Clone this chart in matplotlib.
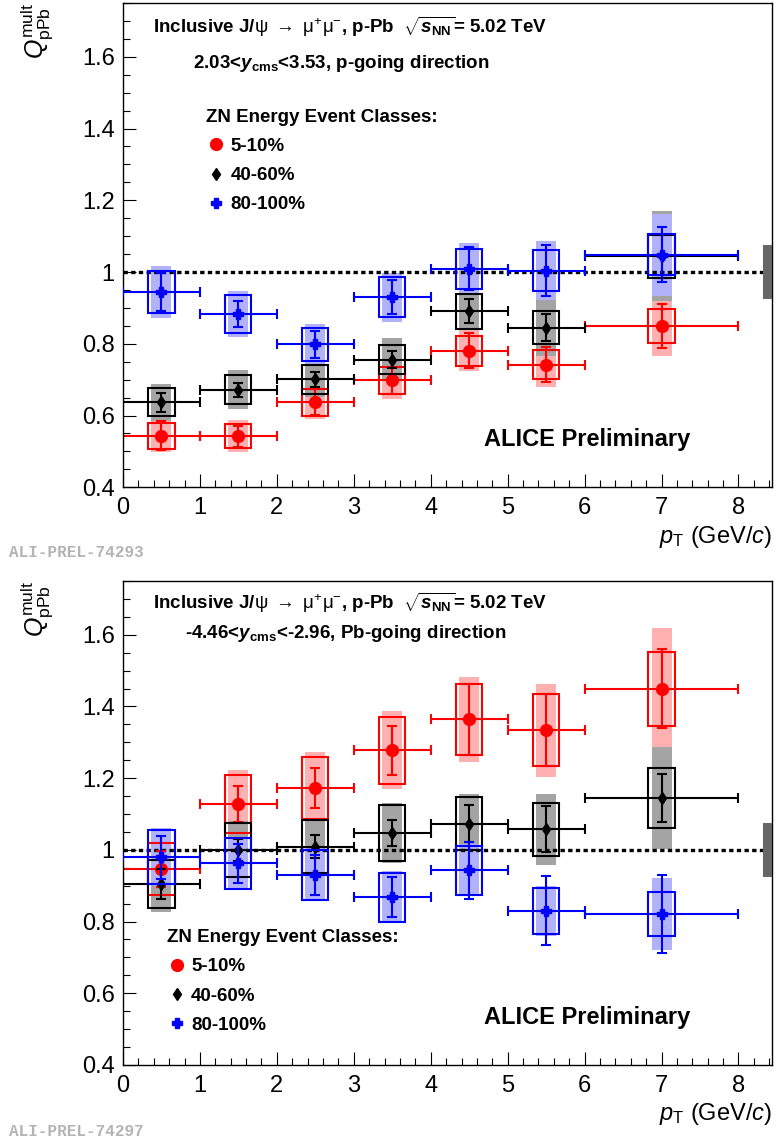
import matplotlib.pyplot as plt
from matplotlib.patches import Rectangle
from matplotlib.lines import Line2D
from matplotlib.ticker import MultipleLocator, FuncFormatter

plt.rcParams['font.family'] = ['Liberation Sans', 'DejaVu Sans']
plt.rcParams['mathtext.fontset'] = 'custom'
plt.rcParams['mathtext.rm'] = 'Liberation Sans'
plt.rcParams['mathtext.it'] = 'Liberation Sans:italic'
plt.rcParams['mathtext.bf'] = 'Liberation Sans:bold'
plt.rcParams['mathtext.bfit'] = 'Liberation Sans:bold:italic'

# pT bins (GeV/c)
pt_lo = [0, 1, 2, 3, 4, 5, 6]
pt_hi = [1, 2, 3, 4, 5, 6, 8]

classes = ['5-10%', '40-60%', '80-100%']
global_unc = 0.075

# p-going direction (2.03 < y_cms < 3.53)
pgo_c1 = [0.544, 0.542, 0.637, 0.698, 0.781, 0.742, 0.850]
pgo_c1_stat = [0.041, 0.030, 0.036, 0.038, 0.048, 0.048, 0.061]
pgo_c1_syst = [0.036, 0.033, 0.038, 0.038, 0.042, 0.040, 0.047]
pgo_c1_corr = [0.047, 0.045, 0.047, 0.053, 0.058, 0.062, 0.083]

pgo_c2 = [0.637, 0.672, 0.701, 0.756, 0.891, 0.845, 1.044]
pgo_c2_stat = [0.027, 0.019, 0.021, 0.024, 0.034, 0.038, 0.060]
pgo_c2_syst = [0.039, 0.040, 0.040, 0.040, 0.049, 0.046, 0.060]
pgo_c2_corr = [0.052, 0.055, 0.050, 0.060, 0.053, 0.078, 0.125]

pgo_c3 = [0.944, 0.882, 0.798, 0.930, 1.009, 1.004, 1.048]
pgo_c3_stat = [0.054, 0.036, 0.037, 0.047, 0.060, 0.070, 0.077]
pgo_c3_syst = [0.058, 0.053, 0.047, 0.055, 0.055, 0.057, 0.057]
pgo_c3_corr = [0.073, 0.064, 0.058, 0.068, 0.072, 0.083, 0.115]

# Pb-going direction (-4.46 < y_cms < -2.96)
pbgo_c1 = [0.947, 1.128, 1.173, 1.278, 1.364, 1.334, 1.449]
pbgo_c1_stat = [0.050, 0.050, 0.056, 0.068, 0.099, 0.100, 0.110]
pbgo_c1_syst = [0.072, 0.081, 0.087, 0.093, 0.098, 0.100, 0.103]
pbgo_c1_corr = [0.080, 0.095, 0.100, 0.109, 0.118, 0.130, 0.170]

pbgo_c2 = [0.905, 1.000, 1.009, 1.047, 1.073, 1.058, 1.145]
pbgo_c2_stat = [0.042, 0.030, 0.032, 0.037, 0.051, 0.063, 0.068]
pbgo_c2_syst = [0.068, 0.076, 0.073, 0.078, 0.074, 0.074, 0.083]
pbgo_c2_corr = [0.077, 0.080, 0.080, 0.085, 0.082, 0.099, 0.142]

pbgo_c3 = [0.980, 0.962, 0.931, 0.868, 0.943, 0.830, 0.821]
pbgo_c3_stat = [0.060, 0.054, 0.056, 0.055, 0.079, 0.096, 0.110]
pbgo_c3_syst = [0.076, 0.071, 0.070, 0.068, 0.068, 0.064, 0.062]
pbgo_c3_corr = [0.080, 0.075, 0.075, 0.072, 0.072, 0.070, 0.100]

styles = [
    dict(color='red', shade='#ffb0b0', marker='o', ms=8.5),
    dict(color='black', shade='#a4a4a4', marker='d', ms=6.5),
    dict(color='blue', shade='#b2b2fa', marker='P', ms=6.5),
]


def draw_series(ax, val, stat, syst, corr, st, z):
    x = [(a + b) / 2 for a, b in zip(pt_lo, pt_hi)]
    xerr = [(b - a) / 2 for a, b in zip(pt_lo, pt_hi)]
    for xi, v, s, c in zip(x, val, syst, corr):
        # correlated syst (shaded) and uncorrelated syst (open box)
        ax.add_patch(Rectangle((xi - 0.13, v - c), 0.26, 2 * c,
                               facecolor=st['shade'], edgecolor='none', zorder=1 + z / 10))
        ax.add_patch(Rectangle((xi - 0.17, v - s), 0.34, 2 * s,
                               facecolor='none', edgecolor=st['color'], lw=1.5, zorder=z + 0.1))
    ax.errorbar(x, val, xerr=xerr, yerr=stat, fmt=st['marker'], color=st['color'],
                ms=st['ms'], lw=1.5, capsize=3.5, capthick=1.5, zorder=z + 0.2)


def setup_panel(ax, series, line2, txt_pos, leg_pos):
    ax.axhline(1.0, color='black', lw=2.4, ls=(0, (1.3, 1.0)), zorder=1.8)
    for i, (val, stat, syst, corr) in enumerate(series):
        draw_series(ax, val, stat, syst, corr, styles[i], 2 + i)

    # global normalisation uncertainty
    ax.add_patch(Rectangle((8.32, 1 - global_unc), 0.12, 2 * global_unc,
                           facecolor='#666666', edgecolor='none', zorder=6))

    ax.set_xlim(0, 8.44)
    ax.set_ylim(0.4, 1.75)
    ax.xaxis.set_major_locator(MultipleLocator(1))
    ax.xaxis.set_minor_locator(MultipleLocator(0.2))
    ax.yaxis.set_major_locator(MultipleLocator(0.2))
    ax.yaxis.set_minor_locator(MultipleLocator(0.05))
    ax.yaxis.set_major_formatter(FuncFormatter(lambda v, p: f'{v:g}'))
    ax.tick_params(which='both', direction='in', top=False, right=False, width=0.8)
    ax.tick_params(which='major', length=9.4, labelsize=17)
    ax.tick_params(which='minor', length=4.7)
    ax.tick_params(axis='x', pad=7)
    ax.tick_params(axis='y', pad=6)
    for sp in ax.spines.values():
        sp.set_linewidth(1.0)

    ax.set_ylabel(r'$Q^{\rm mult}_{\rm pPb}$', fontsize=18, loc='top')
    ax.yaxis.set_label_coords(-0.105, 1.0)
    ax.set_xlabel(r'$p_{\rm T}$ (GeV/$c$)', fontsize=17, loc='right')
    ax.xaxis.set_label_coords(1.0, -0.075)

    ax.text(0.0457, txt_pos[2], r'Inclusive J/$\mathrm{\psi}$ $\rightarrow$ '
            r'$\mathrm{\mu}^{+}\mathrm{\mu}^{-}$, p-Pb  $\sqrt{\mathbfit{s}_{\mathbf{NN}}}$= 5.02 TeV',
            transform=ax.transAxes, fontsize=13.5, fontweight='bold', va='baseline')
    ax.text(txt_pos[0], txt_pos[1], line2, transform=ax.transAxes,
            fontsize=13.5, fontweight='bold', va='baseline')
    ax.text(0.7146, 0.099, 'ALICE Preliminary', transform=ax.transAxes,
            fontsize=17, fontweight='bold', ha='center', va='center')

    handles = [Line2D([], [], ls='none', marker=s['marker'], color=s['color'], ms=s['ms'])
               for s in styles]
    ax.legend(handles, classes, title='ZN Energy Event Classes:', loc='upper left',
              bbox_to_anchor=leg_pos, frameon=False, borderpad=0, borderaxespad=0,
              handlelength=1.1, handletextpad=0.2, labelspacing=0.65,
              prop={'weight': 'bold', 'size': 13.5},
              title_fontproperties={'weight': 'bold', 'size': 13.5}, alignment='left')


fig = plt.figure(figsize=(7.77, 11.39), dpi=100)
ax1 = fig.add_axes([0.1583, 0.5722, 0.8357, 0.4252])
ax2 = fig.add_axes([0.1583, 0.0650, 0.8357, 0.4249])

setup_panel(ax1,
            [(pgo_c1, pgo_c1_stat, pgo_c1_syst, pgo_c1_corr),
             (pgo_c2, pgo_c2_stat, pgo_c2_syst, pgo_c2_corr),
             (pgo_c3, pgo_c3_stat, pgo_c3_syst, pgo_c3_corr)],
            r'2.03<$\mathbfit{y}_{\mathbf{cms}}$<3.53, p-going direction',
            (0.1073, 0.8652, 0.9387), (0.128, 0.782))
setup_panel(ax2,
            [(pbgo_c1, pbgo_c1_stat, pbgo_c1_syst, pbgo_c1_corr),
             (pbgo_c2, pbgo_c2_stat, pbgo_c2_syst, pbgo_c2_corr),
             (pbgo_c3, pbgo_c3_stat, pbgo_c3_syst, pbgo_c3_corr)],
            r'-4.46<$\mathbfit{y}_{\mathbf{cms}}$<-2.96, Pb-going direction',
            (0.0955, 0.8829, 0.9421), (0.0673, 0.281))

# figure tags below each panel
fig.text(9 / 777, 1 - 553 / 1139, 'ALI-PREL-74293', family='Liberation Mono', weight='bold',
         color='#b4b4b4', fontsize=11.5, va='center')
fig.text(9 / 777, 1 - 1131 / 1139, 'ALI-PREL-74297', family='Liberation Mono', weight='bold',
         color='#b4b4b4', fontsize=11.5, va='center')

fig.savefig('out.png', dpi=100)
